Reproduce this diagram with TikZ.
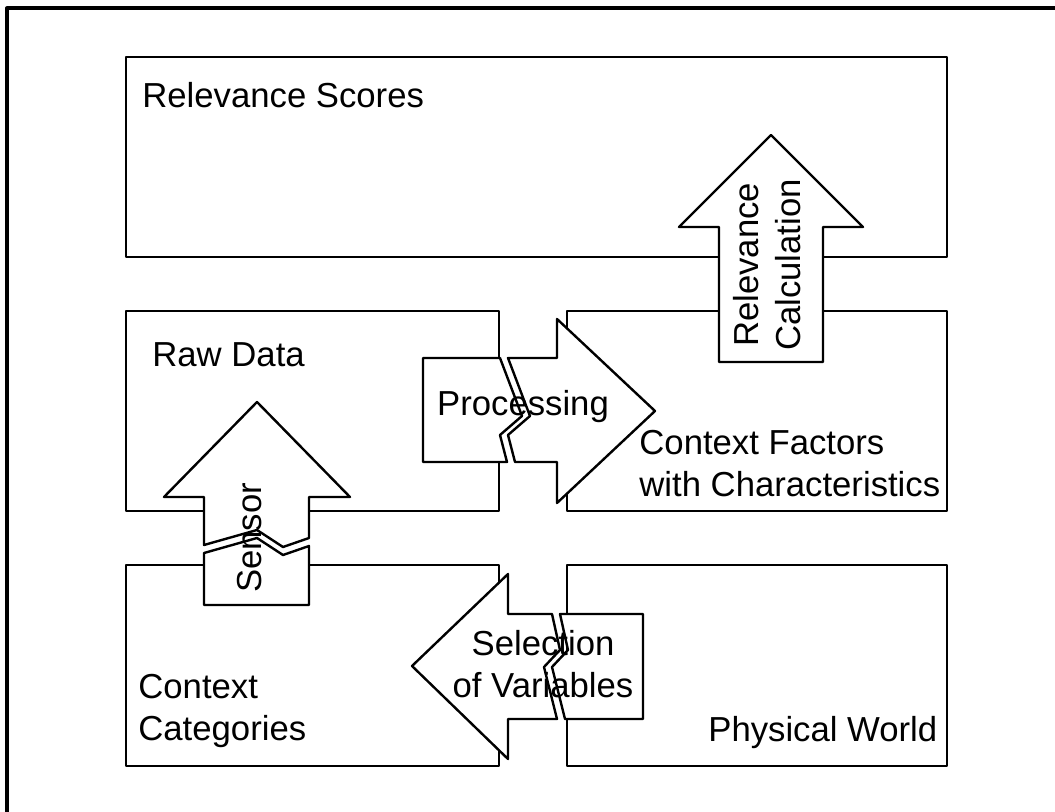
\documentclass[tikz,border=0pt]{standalone}
\usepackage{fontspec}
\setmainfont{Liberation Sans}
\begin{document}
\begin{tikzpicture}[x=0.5pt,y=-0.5pt,line join=round,
  panel/.style={draw,line width=1.2pt},
  bigarrow/.style={draw,fill=white,line width=1.2pt},
  lbl/.style={inner sep=0pt,font=\fontsize{17.35}{21}\selectfont,align=left}]
 \useasboundingbox (0,0) rectangle (1055,812);
 \draw[line width=2pt] (7,812)--(7,8.5)--(1055,8.5);
 % panels
 \draw[panel] (126,57) rectangle (947,257);
 \draw[panel] (126,311) rectangle (499,511);
 \draw[panel] (567,311) rectangle (947,511);
 \draw[panel] (126,565) rectangle (499,766);
 \draw[panel] (567,565) rectangle (947,766);
 % arrows, split where they cross from one panel to the next
 \draw[bigarrow] (719,362)--(719,227)--(679,227)--(771,135)--(863,227)--(823,227)--(823,362)--cycle;
 \draw[bigarrow] (204,545)--(204,497)--(164,497)--(257,402)--(350,497)--(309,497)--(309,538)--(283,547)--(257,530)--cycle;
 \draw[bigarrow] (204,553)--(257,538)--(283,555)--(309,546)--(309,605)--(204,605)--cycle;
 \draw[bigarrow] (423,358)--(500,358)--(522,416)--(500,435)--(507,462)--(423,462)--cycle;
 \draw[bigarrow] (508,358)--(557,358)--(557,319)--(655,411)--(557,503)--(557,462)--(515,462)--(508,435)--(530,416)--cycle;
 \draw[bigarrow] (412,666)--(508,574)--(508,614)--(552,614)--(560,650)--(544,667)--(557,719)--(508,719)--(508,759)--cycle;
 \draw[bigarrow] (560,614)--(643,614)--(643,719)--(565,719)--(552,667)--(568,650)--cycle;
 % labels
 \node[lbl,anchor=west] (scores) at (142,95) {Relevance Scores};
 \node[lbl,anchor=west] (raw) at (152,355) {Raw Data};
 \node[lbl,anchor=west] (factors) at (639,464) {Context Factors\\with Characteristics};
 \node[lbl,anchor=west] (categories) at (138,711) {Context\\Categories};
 \node[lbl,anchor=west] (world) at (708,733) {Physical World};
 \node[lbl,align=center,rotate=90] (calc) at (767,265) {Relevance\\Calculation};
 \node[lbl,rotate=90] (sensor) at (250,538) {Sensor};
 \node[lbl] (processing) at (523,407) {Processing};
 \node[lbl,align=center] (selection) at (543,664) {Selection\\of Variables};
\end{tikzpicture}
\end{document}
